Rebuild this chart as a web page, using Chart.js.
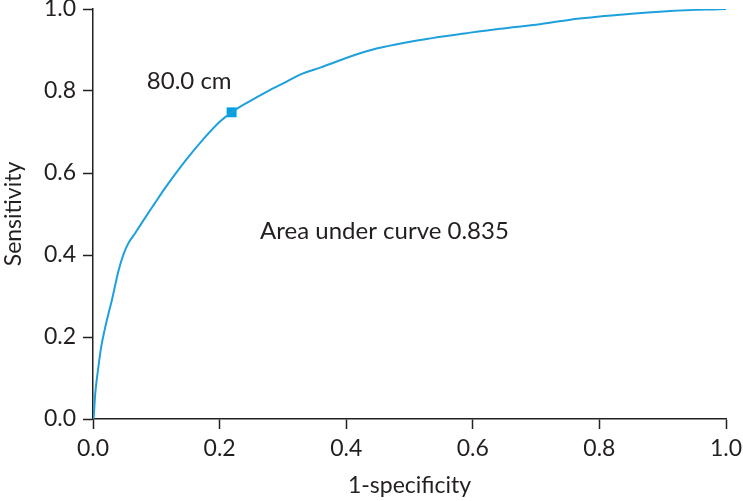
<!DOCTYPE html>
<html>
<head>
<meta charset="utf-8">
<script src="https://cdn.jsdelivr.net/npm/chart.js@4/dist/chart.umd.min.js"></script>
<style>
html,body{margin:0;padding:0;background:#fff;}
#wrap{width:743px;height:501px;}
</style>
</head>
<body>
<div id="wrap"><canvas id="c" width="743" height="501"></canvas></div>
<script>
// ROC curve points (1-specificity, sensitivity)
const fprValues = [0, 0.0011, 0.0036, 0.0079, 0.0131, 0.0185, 0.0248, 0.030, 0.040, 0.048, 0.056, 0.066, 0.082, 0.098, 0.111, 0.122, 0.148, 0.174, 0.201, 0.219, 0.243, 0.280, 0.306, 0.327, 0.359, 0.432, 0.527, 0.590, 0.643, 0.706, 0.754, 0.833, 0.912, 1.0];
const tprValues = [0, 0.006, 0.063, 0.120, 0.177, 0.218, 0.259, 0.291, 0.360, 0.401, 0.429, 0.452, 0.490, 0.527, 0.557, 0.581, 0.634, 0.682, 0.726, 0.748, 0.771, 0.803, 0.823, 0.840, 0.857, 0.897, 0.927, 0.941, 0.952, 0.963, 0.974, 0.986, 0.995, 1.0];
// cut-off point
const cutoffPoint = [0.219, 0.748];
const cutoffLabel = "80.0 cm";
const cutoffLabelPos = [0.152, 0.824];
const aucLabel = "Area under curve 0.835";
const aucLabelPos = [0.264, 0.457];
const tickValues = [0, 0.2, 0.4, 0.6, 0.8, 1.0];
const xTitle = "1-specificity";
const yTitle = "Sensitivity";

const FONT = "Lato";
const TXT = "#231f20";
const LINE = "#1ea0dc";

const annot = {
  id: 'annot',
  afterDatasetsDraw(chart) {
    const {ctx, scales:{x, y}} = chart;
    ctx.save();
    ctx.fillStyle = TXT;
    ctx.font = "24px " + FONT;
    ctx.textBaseline = "middle";
    ctx.textAlign = "center";
    ctx.fillText(cutoffLabel, x.getPixelForValue(cutoffLabelPos[0]), y.getPixelForValue(cutoffLabelPos[1]));
    ctx.textAlign = "left";
    ctx.fillText(aucLabel, x.getPixelForValue(aucLabelPos[0]), y.getPixelForValue(aucLabelPos[1]));
    ctx.restore();
  }
};

const rocData = fprValues.map((v, i) => ({x: v, y: tprValues[i]}));

new Chart(document.getElementById('c'), {
  type: 'scatter',
  data: {
    datasets: [
      {
        data: rocData,
        showLine: true,
        borderColor: LINE,
        borderWidth: 2,
        pointRadius: 0,
        cubicInterpolationMode: 'monotone',
        fill: false
      },
      {
        data: [{x: cutoffPoint[0], y: cutoffPoint[1]}],
        pointStyle: 'rect',
        pointRadius: 7,
        backgroundColor: '#00a0e3',
        borderColor: '#00a0e3',
        borderWidth: 0,
        showLine: false
      }
    ]
  },
  options: {
    responsive: false,
    animation: false,
    events: [],
    layout: {autoPadding: false, padding: {top: 9, right: 17, left: 0, bottom: 0}},
    plugins: {legend: {display: false}, tooltip: {enabled: false}},
    scales: {
      x: {
        type: 'linear', min: 0, max: 1,
        afterBuildTicks: s => { s.ticks = tickValues.map(v => ({value: v})); },
        afterFit: s => { s.height = 82; s.paddingLeft = 0; s.paddingRight = 0; },
        grid: {drawOnChartArea: false, tickLength: 10, tickColor: TXT, tickWidth: 1.5},
        border: {color: TXT, width: 1.5},
        ticks: {color: TXT, font: {family: FONT, size: 23}, padding: 6, maxRotation: 0,
          callback: v => v.toFixed(1)},
        title: {display: true, text: xTitle, color: TXT, font: {family: FONT, size: 23}, padding: {top: 0, bottom: 2}}
      },
      y: {
        type: 'linear', min: 0, max: 1,
        afterBuildTicks: s => { s.ticks = tickValues.map(v => ({value: v})); },
        afterFit: s => { s.width = 93; s.paddingTop = 0; s.paddingBottom = 0; },
        grid: {drawOnChartArea: false, tickLength: 10, tickColor: TXT, tickWidth: 1.5},
        border: {color: TXT, width: 1.5},
        ticks: {color: TXT, font: {family: FONT, size: 23}, padding: 7,
          callback: v => v.toFixed(1)},
        title: {display: true, text: yTitle, color: TXT, font: {family: FONT, size: 23}, padding: {top: 0, bottom: 0}}
      }
    }
  },
  plugins: [annot]
});
</script>
</body>
</html>
